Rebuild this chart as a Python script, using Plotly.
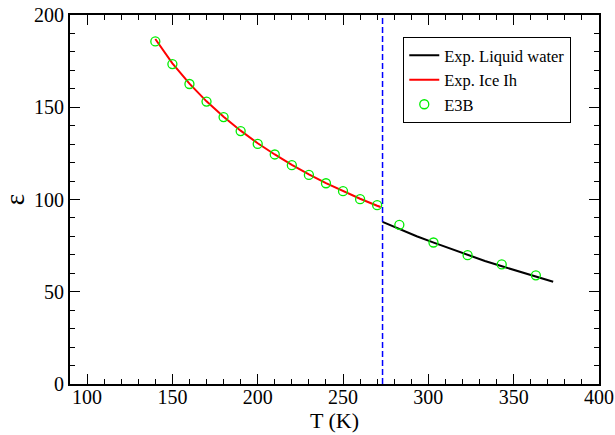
import plotly.graph_objects as go

# Experimental static dielectric constant of ice Ih
ice_T = [140, 150, 160, 170, 180, 190, 200, 210, 220, 230, 240, 250, 260, 270, 272]
ice_eps = [187.0, 173.8, 162.8, 153.2, 144.8, 137.3, 130.5, 124.4, 118.8, 113.6,
           108.9, 104.5, 100.4, 96.6, 95.9]

# Experimental static dielectric constant of liquid water
liq_T = [273.15, 283.15, 293.15, 303.15, 313.15, 323.15, 333.15, 343.15, 353.15,
         363.15, 373.15]
liq_eps = [87.9, 83.9, 80.1, 76.6, 73.2, 69.9, 66.7, 63.8, 60.9, 58.1, 55.4]

# E3B model results
e3b_T = [140, 150, 160, 170, 180, 190, 200, 210, 220, 230, 240, 250, 260, 270,
         283, 303, 323, 343, 363]
e3b_eps = [185.7, 173.4, 162.6, 153.1, 144.7, 137.1, 130.1, 124.4, 118.6, 113.3,
           108.8, 104.5, 100.2, 96.9, 86.3, 76.7, 69.8, 64.8, 58.9]

# Melting point marker
T_melt = 273.15

FONT = "Liberation Serif"

fig = go.Figure()
fig.add_trace(go.Scatter(x=liq_T, y=liq_eps, mode="lines", name="Exp. Liquid water",
                         line=dict(color="black", width=2)))
fig.add_trace(go.Scatter(x=ice_T, y=ice_eps, mode="lines", name="Exp. Ice Ih",
                         line=dict(color="red", width=2)))
fig.add_trace(go.Scatter(x=e3b_T, y=e3b_eps, mode="markers", name="E3B",
                         marker=dict(symbol="circle-open", size=9, color="#00ee00",
                                     line=dict(width=1.3, color="#00ee00"))))

fig.add_shape(type="line", x0=T_melt, x1=T_melt, y0=0, y1=1, xref="x", yref="paper",
              line=dict(color="blue", width=1.5, dash="6px,3px"))

axis_style = dict(
    showgrid=False, zeroline=False, showline=True, linecolor="black", linewidth=2,
    mirror="ticks", ticks="inside", ticklen=10, tickwidth=1.2, tickcolor="black",
    tickfont=dict(family=FONT, size=20, color="black"), automargin=False,
    minor=dict(dtick=10, ticks="inside", ticklen=5, tickcolor="black", tickwidth=1.2),
)

fig.update_xaxes(range=[90, 400], dtick=50, tick0=0, ticklabelstandoff=-6,
                 title=dict(text="T (K)", font=dict(family=FONT, size=22, color="black"),
                            standoff=0),
                 **axis_style)
fig.update_yaxes(range=[0, 200], dtick=50, tick0=0,
                 title=dict(text="ε", font=dict(family=FONT, size=27, color="black"),
                            standoff=4),
                 **axis_style)

fig.update_layout(
    width=615, height=435,
    margin=dict(l=70, r=16, t=15, b=51),
    plot_bgcolor="white", paper_bgcolor="white",
    legend=dict(x=0.630, y=0.94, xanchor="left", yanchor="top",
                bgcolor="white", bordercolor="black", borderwidth=1,
                font=dict(family=FONT, size=16.5, color="black"),
                tracegroupgap=0, itemwidth=30),
    showlegend=True,
)

fig.write_html("out.html")
